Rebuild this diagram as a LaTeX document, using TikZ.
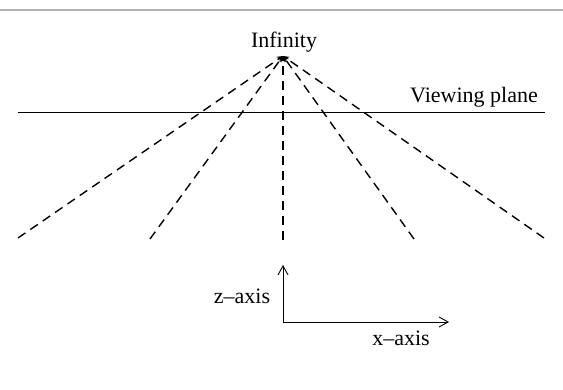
\documentclass[tikz,border=0pt]{standalone}
\usepackage{fontspec}
\setmainfont{Liberation Serif}
\usetikzlibrary{arrows.meta}
\begin{document}
\begin{tikzpicture}[x=1pt,y=1pt,
  lbl/.style={font=\fontsize{22}{24}\selectfont, inner sep=0pt},
  ray/.style={line width=1.4pt, dash pattern=on 9pt off 6pt, -{Stealth[length=6pt,width=6pt]}},
  axis/.style={line width=0.9pt, -{Straight Barb[length=9pt,width=10pt]}}]
\useasboundingbox (0,0) rectangle (563,390);
\draw[gray!60, line width=1.5pt] (0,380) -- (563,380);
% apex and labels
\coordinate (apex) at (283,334);
\node[lbl] (inf) at (284,348) {Infinity};
\node[lbl] (vp) at (474,293) {Viewing plane};
\coordinate (vpl) at (18,277);
\coordinate (vpr) at (545,277);
\draw[line width=1pt] (vpl) -- (vpr);
% ray bottoms
\coordinate (b1) at (18,152);
\coordinate (b2) at (150,151);
\coordinate (b3) at (283,150);
\coordinate (b4) at (414,151);
\coordinate (b5) at (544,152);
\foreach \b in {b1,b2,b3,b4,b5} \draw[ray] (\b) -- (apex);
% axes
\coordinate (o) at (283,68);
\coordinate (zt) at (283,125);
\coordinate (xt) at (449,68);
\draw[axis] (o) -- (zt);
\draw[axis] (o) -- (xt);
\node[lbl] (zl) at (242,94) {z--axis};
\node[lbl] (xl) at (401,52) {x--axis};
\end{tikzpicture}
\end{document}
